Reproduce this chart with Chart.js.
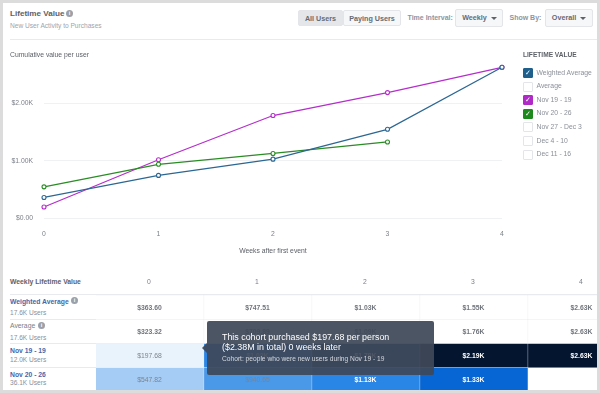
<!DOCTYPE html>
<html>
<head>
<meta charset="utf-8">
<script src="https://cdn.jsdelivr.net/npm/chart.js@4"></script>
<style>
  html, body { margin: 0; padding: 0; width: 600px; height: 393px; overflow: hidden; background: #dcdcdc; }
  body, canvas { font-family: "Liberation Sans", Arial, sans-serif; }
  #card { position: absolute; left: 3px; top: 3px; width: 594px; height: 387px; background: #fff; overflow: hidden; }
  /* page coordinates are easier to read off the picture, so shift everything by the card offset */
  #page { position: absolute; left: -3px; top: -3px; width: 600px; height: 393px; }
  #page div, #page span { position: absolute; white-space: nowrap; }
  #lineChart { position: absolute; left: 0; top: 0; }
  #tableChart { position: absolute; left: 96px; top: 270px; }
  .rule { background: #e9eaed; height: 1px; }
  .btn { box-sizing: border-box; border: 1px solid #e3e5e8; border-radius: 2px; background: #f6f7f9; color: #666a72; font-size: 7.2px; font-weight: bold; text-align: center; line-height: 15px; }
  .lbl { color: #9094a0; font-size: 7px; font-weight: bold; }
  .caret { width: 0; height: 0; border-left: 3px solid transparent; border-right: 3px solid transparent; border-top: 3px solid #5d6168; }
  .info { width: 7px; height: 7px; border-radius: 50%; background: #9ba1aa; color: #fff; font-size: 5.5px; font-weight: bold; line-height: 7px; text-align: center; }
  .box { box-sizing: border-box; width: 10px; height: 10px; border: 1px solid #e3e5e8; border-radius: 1px; background: #fff; color: #fff; font-size: 7px; line-height: 8px; text-align: center; }
  .legendText { color: #8a8f98; font-size: 6.8px; }
  .rowName { color: #4a66a8; font-size: 6.8px; font-weight: bold; }
  .rowName.plain { color: #7a7f88; font-weight: normal; }
  .rowUsers { color: #8a8f98; font-size: 6.6px; }
  #tip { left: 207px; top: 321px; width: 227px; height: 54px; background: rgba(62,72,88,0.93); border-radius: 2px; color: #fff; }
  #tipArrow { left: 202px; top: 343px; width: 0; height: 0; border-top: 5px solid transparent; border-bottom: 5px solid transparent; border-right: 5px solid rgba(62,72,88,0.93); }
</style>
</head>
<body>
<div id="card"><div id="page">
  <div style="left:10px;top:9px;font-size:8.1px;font-weight:bold;color:#5d6168">Lifetime Value</div>
  <div class="info" style="left:66px;top:9.5px">i</div>
  <div style="left:10px;top:22px;font-size:6.6px;color:#a0a4ac">New User Activity to Purchases</div>

  <div class="btn" style="left:298px;top:10px;width:45px;height:16px;background:#e4e6ea">All Users</div>
  <div class="btn" style="left:343px;top:10px;width:58px;height:16px">Paying Users</div>
  <div class="lbl" style="left:407.5px;top:13.5px">Time Interval:</div>
  <div class="btn" style="left:455px;top:9px;width:48px;height:18px;line-height:16px;padding-right:9px">Weekly</div>
  <div class="caret" style="left:491px;top:16.5px"></div>
  <div class="lbl" style="left:509.5px;top:13.5px">Show By:</div>
  <div class="btn" style="left:544.5px;top:9px;width:48px;height:18px;line-height:16px;padding-right:9px">Overall</div>
  <div class="caret" style="left:579.5px;top:16.5px"></div>
  <div class="rule" style="left:10px;top:39px;width:587px"></div>

  <canvas id="lineChart" width="600" height="262" style="width:600px;height:262px"></canvas>
  <div style="left:10px;top:51px;font-size:6.8px;color:#5d6168">Cumulative value per user</div>
  <div style="left:523px;top:51px;font-size:6.6px;font-weight:bold;color:#5d6168">LIFETIME VALUE</div>
  <div id="legend"></div>

  <div id="rowLabels"></div>
  <div class="rule" style="left:10px;top:294px;width:587px"></div>
  <canvas id="tableChart" width="540" height="122" style="width:540px;height:122px"></canvas>
  <div style="left:10px;top:278px;font-size:6.8px;font-weight:bold;color:#5d6168">Weekly Lifetime Value</div>

  <div id="tipArrow"></div>
  <div id="tip">
    <span style="left:15px;top:11px;font-size:8.9px;line-height:10px">This cohort purchased $197.68 per person<br>($2.38M in total) 0 weeks later</span>
    <span style="left:15px;top:34px;font-size:6.65px;color:#d5d8de">Cohort: people who were new users during Nov 19 - 19</span>
  </div>
</div></div>

<script>
const weeks = ["0", "1", "2", "3", "4"];
const yTicks = [0, 1000, 2000];

// line chart series, dollars per user
const weightedAverage = [363.6, 747.51, 1030, 1550, 2630];
const nov19 = [197.68, 1020, 1790, 2190, 2630];
const nov20 = [547.82, 940.65, 1130, 1330, null];

const legendNames = ["Weighted Average", "Average", "Nov 19 - 19", "Nov 20 - 26", "Nov 27 - Dec 3", "Dec 4 - 10", "Dec 11 - 16"];
const legendColors = ["#1f5f8b", null, "#b02ac8", "#1e8a1e", null, null, null];

// table rows
const rowNames = ["Weighted Average", "Average", "Nov 19 - 19", "Nov 20 - 26"];
const rowUsers = ["17.6K Users", "17.6K Users", "12.0K Users", "36.1K Users"];
const rowWeighted = ["$363.60", "$747.51", "$1.03K", "$1.55K", "$2.63K"];
const rowAverage = ["$323.32", "$709.89", "$1.09K", "$1.76K", "$2.63K"];
const rowNov19 = ["$197.68", "$1.02K", "$1.78K", "$2.19K", "$2.63K"];
const rowNov20 = ["$547.82", "$940.65", "$1.13K", "$1.33K", null];
const tableValues = [rowWeighted, rowAverage, rowNov19, rowNov20];

const fillWeighted = ["#ffffff", "#ffffff", "#ffffff", "#ffffff", "#ffffff"];
const fillAverage = ["#ffffff", "#ffffff", "#ffffff", "#ffffff", "#ffffff"];
const fillNov19 = ["#e9f3fc", "#2a86e6", "#04366e", "#03152f", "#03152f"];
const fillNov20 = ["#a5ccf5", "#4a98e8", "#2a86e6", "#0766d4", "#ffffff"];
const tableFills = [fillWeighted, fillAverage, fillNov19, fillNov20];

// label positions inside each row, the rows are not evenly spaced in the picture
const rowNameTops = [297.5, 322, 347, 370.5];
const rowUsersTops = [309, 334, 356, 379];

const fontFamily = '"Liberation Sans", Arial, sans-serif';

// html legend
const legendEl = document.getElementById("legend");
legendNames.forEach((name, i) => {
  const top = 68 + i * 13.6;
  const box = document.createElement("div");
  box.className = "box";
  box.style.left = "523px";
  box.style.top = top + "px";
  if (legendColors[i]) {
    box.style.background = legendColors[i];
    box.style.borderColor = legendColors[i];
    box.textContent = "\u2713";
  }
  legendEl.appendChild(box);
  const text = document.createElement("div");
  text.className = "legendText";
  text.style.left = "536.5px";
  text.style.top = top + 0.5 + "px";
  text.textContent = name;
  legendEl.appendChild(text);
});

// row labels on the left of the table
const rowLabelsEl = document.getElementById("rowLabels");
rowNames.forEach((name, i) => {
  const nameEl = document.createElement("div");
  nameEl.className = i === 1 ? "rowName plain" : "rowName";
  nameEl.style.left = "10px";
  nameEl.style.top = rowNameTops[i] + "px";
  nameEl.textContent = name;
  rowLabelsEl.appendChild(nameEl);
  const usersEl = document.createElement("div");
  usersEl.className = "rowUsers";
  usersEl.style.left = "10px";
  usersEl.style.top = rowUsersTops[i] + "px";
  usersEl.textContent = rowUsers[i];
  rowLabelsEl.appendChild(usersEl);
  if (i < 2) {
    const info = document.createElement("div");
    info.className = "info";
    info.textContent = "i";
    info.style.left = (i === 0 ? 71 : 38) + "px";
    info.style.top = rowNameTops[i] - 0.5 + "px";
    rowLabelsEl.appendChild(info);
  }
  if (i > 0) {
    const rule = document.createElement("div");
    rule.className = "rule";
    rule.style.cssText = "left:10px;width:86px;top:" + (295 + i * 24.25 - 0.5) + "px";
    rowLabelsEl.appendChild(rule);
  }
});

function lineDataset(data, color) {
  return {
    data: data,
    borderColor: color,
    borderWidth: 1.2,
    pointRadius: 2,
    pointBorderWidth: 1.1,
    pointBackgroundColor: "#ffffff",
    pointBorderColor: color,
    tension: 0,
    clip: false,
  };
}

new Chart(document.getElementById("lineChart"), {
  type: "line",
  data: {
    labels: weeks,
    datasets: [
      lineDataset(weightedAverage, "#2b6793"),
      lineDataset(nov20, "#2a8c24"),
      lineDataset(nov19, "#b52ecb"),
    ],
  },
  options: {
    responsive: false,
    animation: false,
    layout: { padding: { top: 63.3, right: 98, bottom: 7, left: 0 } },
    plugins: { legend: { display: false }, tooltip: { enabled: false } },
    scales: {
      x: {
        grid: { display: false },
        border: { display: false },
        ticks: { color: "#7a7f88", font: { family: fontFamily, size: 6.8 }, padding: 3.5, maxRotation: 0 },
        title: {
          display: true,
          text: "Weeks after first event",
          color: "#5d6168",
          font: { family: fontFamily, size: 6.8 },
          padding: { top: 7, bottom: 0 },
        },
        afterFit: (scale) => { scale.height = 36.7; },
      },
      y: {
        min: 0,
        max: 2700,
        grid: { color: "#f0f1f3", lineWidth: 1, drawTicks: false },
        border: { display: false },
        ticks: {
          color: "#7a7f88",
          font: { family: fontFamily, size: 6.8 },
          padding: 11,
          callback: (v) => (v === 0 ? "$0.00" : "$" + (v / 1000).toFixed(2) + "K"),
        },
        afterBuildTicks: (scale) => { scale.ticks = yTicks.map((v) => ({ value: v })); },
        afterFit: (scale) => { scale.width = 44; },
      },
    },
  },
});

// writes the column headers and the cell values over the heatmap bars
const cellText = {
  id: "cellText",
  afterDatasetsDraw(chart) {
    const ctx = chart.ctx;
    const x = chart.scales.x;
    const y = chart.scales.y;
    ctx.save();
    ctx.textAlign = "center";
    ctx.textBaseline = "middle";
    weeks.forEach((week, c) => {
      ctx.font = "6.8px " + fontFamily;
      ctx.fillStyle = "#7a7f88";
      ctx.fillText(week, x.getPixelForValue(c + 0.5) - 1, 12.5);
    });
    tableValues.forEach((row, r) => {
      row.forEach((text, c) => {
        if (text === null) return;
        const dark = r > 1 && !(r === 2 && c === 0) && !(r === 3 && c < 2);
        ctx.font = (r < 2 || dark ? "bold " : "") + "6.8px " + fontFamily;
        ctx.fillStyle = dark ? "#ffffff" : r < 2 ? "#70747c" : "#7c838d";
        ctx.fillText(text, x.getPixelForValue(c + 0.5) - 0.5, y.getPixelForValue(r) + 0.5);
      });
    });
    ctx.restore();
  },
};

new Chart(document.getElementById("tableChart"), {
  type: "bar",
  plugins: [cellText],
  data: {
    labels: rowNames,
    datasets: weeks.map((week, c) => ({
      label: week,
      data: tableValues.map((row) => (row[c] === null ? null : 1)),
      backgroundColor: tableFills.map((row) => row[c]),
      borderColor: "#e9eaed",
      borderWidth: 0.6,
      barPercentage: 1,
      categoryPercentage: 1,
    })),
  },
  options: {
    indexAxis: "y",
    responsive: false,
    animation: false,
    layout: { padding: { top: 25, right: 0, bottom: 0, left: 0 } },
    plugins: { legend: { display: false }, tooltip: { enabled: false } },
    scales: {
      x: { stacked: true, min: 0, max: 5, display: false },
      y: { stacked: true, display: false },
    },
  },
});
</script>
</body>
</html>
